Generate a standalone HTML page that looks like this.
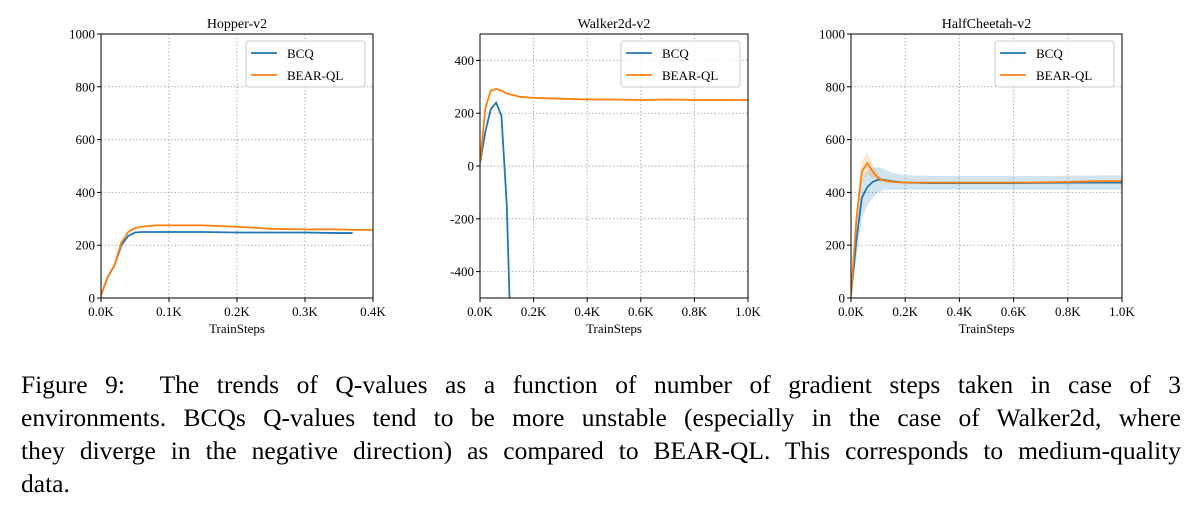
<!DOCTYPE html>
<html><head><meta charset="utf-8"><style>
body{margin:0;background:#fff;width:1199px;height:507px;overflow:hidden;font-family:"Liberation Serif",serif}
#cap{position:absolute;left:21px;top:368px;width:1160px;font-size:25.5px;line-height:33px;color:#000}
#cap .j{display:block;text-align:justify;text-align-last:justify;white-space:nowrap}
#cap .l{display:block}
</style></head><body>
<svg id="fig" width="1199" height="360" style="position:absolute;left:0;top:0" font-family="Liberation Serif, serif"></svg>
<div id="cap"><span class="j">Figure 9:&nbsp; The trends of Q-values as a function of number of gradient steps taken in case of 3</span><span class="j">environments. BCQs Q-values tend to be more unstable (especially in the case of Walker2d, where</span><span class="j">they diverge in the negative direction) as compared to BEAR-QL. This corresponds to medium-quality</span><span class="l">data.</span></div>
<script>
// Hopper data (x in K steps)
const hopX=[0,0.01,0.02,0.03,0.04,0.05,0.06,0.08,0.1,0.15,0.2,0.25,0.3,0.35,0.37,0.4];
const hopBCQ=[10,80,125,200,235,248,250,250,250,250,248,248,248,246,246,null];
const hopBEAR=[10,80,125,210,250,265,270,275,275,275,270,262,260,260,258,258];
// Walker data
const walX=[0,0.02,0.04,0.06,0.08,0.1,0.11,0.15,0.2,0.3,0.4,0.5,0.6,0.7,0.8,0.9,1.0];
const walBCQ=[10,130,215,240,190,-150,-500,null,null,null,null,null,null,null,null,null,null];
const walBEAR=[10,220,285,292,285,275,272,262,258,255,252,252,250,252,250,250,250];
// HalfCheetah data
const hcX=[0,0.02,0.04,0.06,0.08,0.1,0.12,0.15,0.2,0.3,0.4,0.5,0.6,0.7,0.8,0.9,1.0];
const hcBCQ=[10,220,380,420,440,448,448,442,437,435,435,435,435,436,437,437,437];
const hcBCQlo=[10,150,300,350,380,400,410,410,410,410,410,410,410,410,410,410,410];
const hcBCQhi=[10,280,450,480,495,495,490,475,465,462,462,462,462,462,463,464,465];
const hcBEAR=[10,300,480,510,480,455,445,440,437,437,437,437,437,438,440,442,443];
const hcBEARlo=[10,280,440,470,455,445,440,437,435,435,435,435,435,436,438,440,441];
const hcBEARhi=[10,320,520,550,505,465,450,443,440,440,440,440,440,440,442,444,445];
const hopXT=["0.0K","0.1K","0.2K","0.3K","0.4K"], hopYT=[0,200,400,600,800,1000];
const wcXT=["0.0K","0.2K","0.4K","0.6K","0.8K","1.0K"], walYT=[-400,-200,0,200,400];

const NS="http://www.w3.org/2000/svg", svg=document.getElementById('fig');
function el(t,a,p){const e=document.createElementNS(NS,t);for(const k in a)e.setAttribute(k,a[k]);(p||svg).appendChild(e);return e;}
const BLUE="#1f77b4",OR="#ff7f0e";
function panel(id,title,L,R,xmax,ymin,ymax,xt,yt,series){
  const T=34,B=298;
  const g=el('g',{});
  
  
  const sx=v=>L+(v/xmax)*(R-L), sy=v=>B-(v-ymin)/(ymax-ymin)*(B-T);
  const cp=el('clipPath',{id:id+'c'},g);el('rect',{x:L,y:T,width:R-L,height:B-T},cp);
  xt.forEach((t,i)=>{const x=L+i*(R-L)/(xt.length-1);
    if(i>0&&i<xt.length-1){const gl=el('line',{x1:x,x2:x,y1:T,y2:B,stroke:'#b0b0b0','stroke-dasharray':'1.5,2'},g);}
    el('line',{x1:x,x2:x,y1:B,y2:B+4,stroke:'#000'},g);
    const tx=el('text',{x:x,y:B+18,'text-anchor':'middle','font-size':13},g);tx.textContent=t;});
  yt.forEach(v=>{const y=sy(v);
    if(v>ymin&&v<ymax){const gl=el('line',{x1:L,x2:R,y1:y,y2:y,stroke:'#b0b0b0','stroke-dasharray':'1.5,2'},g);}
    el('line',{x1:L-4,x2:L,y1:y,y2:y,stroke:'#000'},g);
    const tx=el('text',{x:L-6,y:y+4.5,'text-anchor':'end','font-size':13},g);tx.textContent=v;});
  const cg=el('g',{'clip-path':'url(#'+id+'c)'},g);
  series.forEach(s=>{
    if(s.lo){let d='';s.x.forEach((x,i)=>d+=(i?'L':'M')+sx(x)+','+sy(s.hi[i]));
      for(let i=s.x.length-1;i>=0;i--)d+='L'+sx(s.x[i])+','+sy(s.lo[i]);
      const b=el('path',{d:d+'Z',fill:s.c,opacity:0.2},cg);}
    let d='';s.x.forEach((x,i)=>{if(s.y[i]!==null)d+=(d?'L':'M')+sx(x)+','+sy(s.y[i]);});
    const p=el('path',{d:d,fill:'none',stroke:s.c,'stroke-width':1.8},cg);
  });
  el('rect',{x:L,y:T,width:R-L,height:B-T,fill:'none',stroke:'#000','stroke-width':1},g);
  const tt=el('text',{x:(L+R)/2,y:T-6,'text-anchor':'middle','font-size':14},g);tt.textContent=title;
  const xl=el('text',{x:(L+R)/2,y:B+35,'text-anchor':'middle','font-size':13},g);xl.textContent='TrainSteps';
  const lg=el('g',{},g);
  const lx=R-127;
  el('rect',{x:lx,y:T+7,width:119,height:46,rx:3,fill:'#fff','fill-opacity':0.8,stroke:'#ccc'},lg);
  [['BCQ',BLUE],['BEAR-QL',OR]].forEach((e,i)=>{const y=T+19+i*22;
    el('line',{x1:lx+5,x2:lx+31,y1:y,y2:y,stroke:e[1],'stroke-width':1.8},lg);
    const t=el('text',{x:lx+41,y:y+5,'font-size':13},lg);t.textContent=e[0];});
}
panel('hopper-chart','Hopper-v2',101,373,0.4,0,1000,hopXT,hopYT,[{n:'bcq',c:BLUE,x:hopX,y:hopBCQ},{n:'bear-ql',c:OR,x:hopX,y:hopBEAR}]);
panel('walker-chart','Walker2d-v2',480,748,1.0,-500,500,wcXT,walYT,[{n:'bcq',c:BLUE,x:walX,y:walBCQ},{n:'bear-ql',c:OR,x:walX,y:walBEAR}]);
panel('halfcheetah-chart','HalfCheetah-v2',851,1122,1.0,0,1000,wcXT,hopYT,[{n:'bcq',c:BLUE,x:hcX,y:hcBCQ,lo:hcBCQlo,hi:hcBCQhi},{n:'bear-ql',c:OR,x:hcX,y:hcBEAR,lo:hcBEARlo,hi:hcBEARhi}]);
</script>
</body></html>
